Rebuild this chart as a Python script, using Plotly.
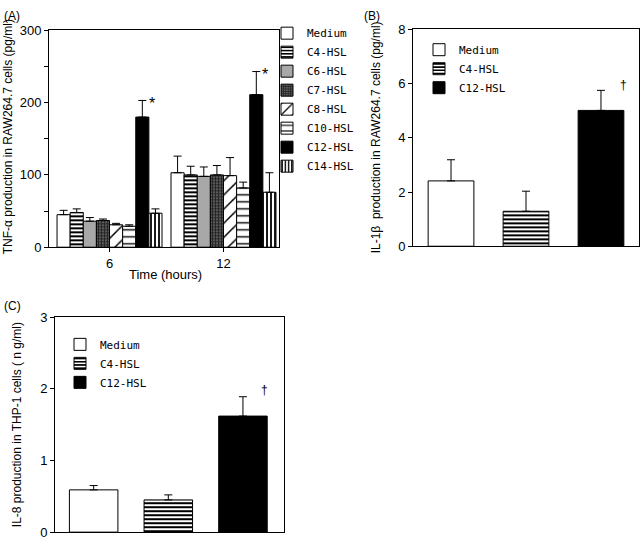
import plotly.graph_objects as go

W, H = 640, 545

# ---------------- data ----------------
times = ["6", "12"]
a_groups = ["Medium", "C4-HSL", "C6-HSL", "C7-HSL", "C8-HSL", "C10-HSL", "C12-HSL", "C14-HSL"]
a_vals = {
    "Medium":  [45, 103],
    "C4-HSL":  [48, 100],
    "C6-HSL":  [36, 98],
    "C7-HSL":  [37, 100],
    "C8-HSL":  [31, 99],
    "C10-HSL": [29, 82],
    "C12-HSL": [180, 211],
    "C14-HSL": [47, 76],
}
a_err = {
    "Medium":  [6, 23],
    "C4-HSL":  [5, 12],
    "C6-HSL":  [5, 13],
    "C7-HSL":  [2, 13],
    "C8-HSL":  [2, 25],
    "C10-HSL": [2, 8],
    "C12-HSL": [23, 32],
    "C14-HSL": [6, 27],
}

bc_groups = ["Medium", "C4-HSL", "C12-HSL"]
b_vals = [2.41, 1.29, 5.01]
b_err = [0.78, 0.74, 0.74]
c_vals = [0.59, 0.45, 1.62]
c_err = [0.06, 0.07, 0.27]

a_ticks = [0, 50, 100, 150, 200, 250, 300]
a_ticktext = ["0", "", "100", "", "200", "", "300"]
b_ticks = [0, 2, 4, 6, 8]
c_ticks = [0, 1, 2, 3]

# ---------------- styles ----------------
styles = {
    "Medium":  dict(bg="white", fg="black", shape="", size=8, sol=0.3),
    "C4-HSL":  dict(bg="white", fg="black", shape="-", size=4, sol=0.5),
    "C6-HSL":  dict(bg="#a8a8a8", fg="#a8a8a8", shape="", size=8, sol=0.3),
    "C7-HSL":  dict(bg="#5a5a5a", fg="#222222", shape="+", size=3, sol=0.5),
    "C8-HSL":  dict(bg="white", fg="black", shape="/", size=10, sol=0.15),
    "C10-HSL": dict(bg="white", fg="black", shape="-", size=7, sol=0.2),
    "C12-HSL": dict(bg="black", fg="black", shape="", size=8, sol=0.3),
    "C14-HSL": dict(bg="white", fg="black", shape="|", size=4, sol=0.45),
}


def marker_for(name):
    s = styles[name]
    return dict(
        color=s["bg"],
        line=dict(color="black", width=1),
        pattern=dict(shape=s["shape"], bgcolor=s["bg"], fgcolor=s["fg"],
                     size=s["size"], solidity=s["sol"], fillmode="replace"),
    )


def err_for(arr):
    return dict(type="data", symmetric=False, array=arr, arrayminus=[0] * len(arr),
                color="black", thickness=1, width=4)


fig = go.Figure()

# Panel A
for i, g in enumerate(a_groups):
    fig.add_trace(go.Bar(
        x=times, y=a_vals[g], name=g, marker=marker_for(g),
        error_y=err_for(a_err[g]), xaxis="x", yaxis="y",
        legend="legend", legendgroup="a" + str(i),
    ))

# Panel B
for i, g in enumerate(bc_groups):
    fig.add_trace(go.Bar(
        x=[g], y=[b_vals[i]], name=g, marker=marker_for(g),
        error_y=err_for([b_err[i]]), xaxis="x2", yaxis="y2",
        offsetgroup="b", width=0.61, legend="legend2", legendgroup="b" + str(i),
    ))

# Panel C
for i, g in enumerate(bc_groups):
    fig.add_trace(go.Bar(
        x=[g], y=[c_vals[i]], name=g, marker=marker_for(g),
        error_y=err_for([c_err[i]]), xaxis="x3", yaxis="y3",
        offsetgroup="c", width=0.65, legend="legend3", legendgroup="c" + str(i),
    ))


def px2x(px):
    return px / W


def px2y(py):
    return 1 - py / H


tickfont = dict(family="Liberation Sans, Arial", size=13, color="black")
axis_common = dict(showline=True, linecolor="black", linewidth=1, mirror=True,
                   showgrid=False, zeroline=False, tickfont=tickfont)

layout = dict(
    width=W, height=H, autosize=False,
    margin=dict(l=0, r=0, t=0, b=0),
    paper_bgcolor="white", plot_bgcolor="white",
    barmode="group", bargap=0.079, bargroupgap=0,
    showlegend=True,
    font=dict(family="Liberation Sans, Arial", color="black"),
    xaxis=dict(domain=[px2x(49), px2x(279)], anchor="y", type="category",
               range=[-0.531, 1.487], ticks="outside", ticklen=4,
               tickcolor="black", **axis_common),
    yaxis=dict(domain=[px2y(247), px2y(24)], anchor="x", range=[0, 300],
               tickmode="array", tickvals=a_ticks, ticktext=a_ticktext,
               ticks="outside", ticklen=4, tickcolor="black", **axis_common),
    xaxis2=dict(domain=[px2x(413), px2x(639)], anchor="y2", type="category",
                range=[-0.507, 2.507], showticklabels=False, ticks="", **axis_common),
    yaxis2=dict(domain=[px2y(246), px2y(23)], anchor="x2", range=[0, 8],
                tickmode="array", tickvals=b_ticks, ticks="outside", ticklen=4,
                tickcolor="black", **axis_common),
    xaxis3=dict(domain=[px2x(55), px2x(284)], anchor="y3", type="category",
                range=[-0.518, 2.55], showticklabels=False, ticks="", **axis_common),
    yaxis3=dict(domain=[px2y(540), px2y(319)], anchor="x3", range=[0, 3],
                tickmode="array", tickvals=c_ticks, ticks="outside", ticklen=4,
                tickcolor="black", **axis_common),
)

legfont = dict(family="DejaVu Sans Mono", size=11, color="black")
layout["legend"] = dict(x=px2x(267), y=px2y(12), xanchor="left", yanchor="top",
                        font=legfont, bgcolor="rgba(0,0,0,0)", tracegroupgap=0,
                        traceorder="normal")
layout["legend2"] = dict(x=px2x(419), y=px2y(29), xanchor="left", yanchor="top",
                         font=legfont, bgcolor="rgba(0,0,0,0)", tracegroupgap=0,
                         traceorder="normal")
layout["legend3"] = dict(x=px2x(60), y=px2y(332), xanchor="left", yanchor="top",
                         font=legfont, bgcolor="rgba(0,0,0,0)", tracegroupgap=0,
                         traceorder="normal")

fig.update_layout(**layout)

# annotations
ann = []
labfont = dict(family="Liberation Sans, Arial", size=12, color="black")
ann.append(dict(text="(A)", x=px2x(2), y=px2y(0), xref="paper", yref="paper",
                xanchor="left", yanchor="top", showarrow=False, font=labfont))
ann.append(dict(text="(B)", x=px2x(362), y=px2y(0), xref="paper", yref="paper",
                xanchor="left", yanchor="top", showarrow=False, font=labfont))
ann.append(dict(text="(C)", x=px2x(2), y=px2y(298), xref="paper", yref="paper",
                xanchor="left", yanchor="top", showarrow=False, font=labfont))

ytfont = dict(family="Liberation Sans, Arial", size=12, color="black")
ann.append(dict(text="TNF-α production in RAW264.7 cells (pg/ml)", textangle=-90,
                x=px2x(8), y=px2y(134), xref="paper", yref="paper",
                xanchor="center", yanchor="middle", showarrow=False, font=ytfont))
ann.append(dict(text="IL-1β  production in RAW264.7 cells (pg/ml)", textangle=-90,
                x=px2x(376), y=px2y(134), xref="paper", yref="paper",
                xanchor="center", yanchor="middle", showarrow=False, font=ytfont))
ann.append(dict(text="IL-8 production in THP-1 cells ( n g/ml)", textangle=-90,
                x=px2x(17), y=px2y(430), xref="paper", yref="paper",
                xanchor="center", yanchor="middle", showarrow=False, font=ytfont))
ann.append(dict(text="Time (hours)", x=px2x(165), y=px2y(275), xref="paper", yref="paper",
                xanchor="center", yanchor="middle", showarrow=False,
                font=dict(family="Liberation Sans, Arial", size=13, color="black")))

for j, t in enumerate(times):
    top = a_vals["C12-HSL"][j] + a_err["C12-HSL"][j]
    ann.append(dict(text="*", x=j, y=top, xref="x", yref="y", xshift=42, yshift=-3,
                    showarrow=False, xanchor="center", yanchor="middle",
                    font=dict(family="Liberation Sans, Arial", size=16, color="black")))
ann.append(dict(text="†", x=2, y=b_vals[2] + b_err[2], xref="x2", yref="y2",
                xshift=23, yshift=5, showarrow=False, xanchor="center", yanchor="middle",
                font=dict(family="Liberation Sans, Arial", size=12, color="black")))
ann.append(dict(text="†", x=2, y=c_vals[2] + c_err[2], xref="x3", yref="y3",
                xshift=22, yshift=7, showarrow=False, xanchor="center", yanchor="middle",
                font=dict(family="Liberation Sans, Arial", size=12, color="black")))

fig.update_layout(annotations=ann)

fig.write_html("out.html", config={"displayModeBar": False},
               post_script="document.body.style.margin='0';")
